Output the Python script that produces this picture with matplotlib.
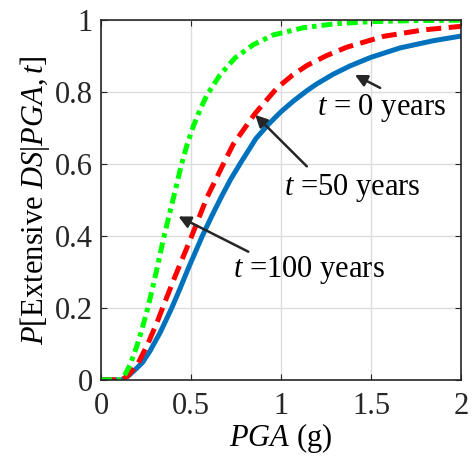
import matplotlib.pyplot as plt

plt.rcParams['font.family'] = ['Liberation Serif', 'DejaVu Serif']
plt.rcParams['mathtext.fontset'] = 'custom'
plt.rcParams['mathtext.rm'] = 'Liberation Serif'
plt.rcParams['mathtext.it'] = 'Liberation Serif:italic'

# curves (PGA in g, probability)
pga_t0 = [0, 0.1, 0.115, 0.15, 0.189, 0.23, 0.272, 0.33, 0.393, 0.44, 0.485, 0.563,
          0.615, 0.67, 0.72, 0.772, 0.86, 0.93, 1.0, 1.07, 1.143, 1.198, 1.29,
          1.383, 1.5, 1.661, 1.846, 2.0]
p_t0 = [0, 0, 0, 0.01, 0.028, 0.048, 0.08, 0.133, 0.2, 0.255, 0.31, 0.4,
        0.455, 0.51, 0.557, 0.6, 0.67, 0.71, 0.745, 0.775, 0.803, 0.822, 0.849,
        0.872, 0.896, 0.922, 0.942, 0.955]

pga_t50 = [0, 0.1, 0.115, 0.15, 0.206, 0.26, 0.309, 0.35, 0.411, 0.504, 0.587, 0.67,
           0.735, 0.856, 0.976, 1.06, 1.143, 1.25, 1.365, 1.568, 1.79, 2.0]
p_t50 = [0, 0, 0, 0.012, 0.046, 0.1, 0.157, 0.21, 0.287, 0.4, 0.505, 0.59,
         0.655, 0.74, 0.81, 0.845, 0.873, 0.9, 0.924, 0.954, 0.972, 0.982]

pga_t100 = [0, 0.09, 0.105, 0.13, 0.16, 0.2, 0.23, 0.26, 0.291, 0.32, 0.346, 0.375,
            0.402, 0.448, 0.476, 0.513, 0.55, 0.587, 0.661, 0.744, 0.846, 0.957,
            1.124, 1.3, 1.5, 1.75, 2.0]
p_t100 = [0, 0, 0, 0.012, 0.04, 0.095, 0.145, 0.2, 0.265, 0.33, 0.39, 0.45,
          0.505, 0.6, 0.65, 0.705, 0.75, 0.79, 0.847, 0.894, 0.931, 0.958,
          0.978, 0.989, 0.995, 0.998, 0.999]

xticks = [0, 0.5, 1, 1.5, 2]
yticks = [0, 0.2, 0.4, 0.6, 0.8, 1]

fs = 22

fig = plt.figure(figsize=(4.72, 4.61), dpi=100)
ax = fig.add_axes([0.214, 0.176, 0.763, 0.781])

ax.plot(pga_t0, p_t0, color='#0072BD', lw=3.6, solid_joinstyle='round')
ax.plot(pga_t50, p_t50, color='#FF0000', lw=3.6, dashes=(3.0, 1.5),
        dash_joinstyle='round')
ax.plot(pga_t100, p_t100, color='#00FF00', lw=3.6, dashes=(2.2, 1.0, 0.9, 1.0),
        dash_joinstyle='round')

ax.set_xlim(0, 2)
ax.set_ylim(0, 1)
ax.set_xticks(xticks)
ax.set_xticklabels(['0', '0.5', '1', '1.5', '2'])
ax.set_yticks(yticks)
ax.set_yticklabels(['0', '0.2', '0.4', '0.6', '0.8', '1'])
ax.grid(True, color='#dcdcdc', lw=1)
ax.tick_params(direction='in', top=True, right=True, labelsize=fs,
               colors='#262626', length=4)
ax.tick_params(axis='x', pad=9)
ax.tick_params(axis='y', pad=6)
for s in ax.spines.values():
    s.set_color('#262626')
    s.set_linewidth(1.2)

ax.set_xlabel(r'$PGA$ (g)', fontsize=fs, labelpad=0)
ax.set_ylabel(r'$P\mathrm{[Extensive\ }DS|PGA,t\mathrm{]}$', fontsize=fs, labelpad=2)

arrow = dict(arrowstyle='-|>', color='#262626', lw=1.8, mutation_scale=18, shrinkA=0, shrinkB=0)
ax.annotate('', xy=(1.41, 0.847), xytext=(1.55, 0.811), arrowprops=arrow)
ax.text(1.556, 0.756, r'$t$ = 0 years', fontsize=fs, ha='center', va='center')
ax.annotate('', xy=(0.856, 0.736), xytext=(1.143, 0.593), arrowprops=arrow)
ax.text(1.396, 0.533, r'$t$ =50 years', fontsize=fs, ha='center', va='center')
ax.annotate('', xy=(0.43, 0.454), xytext=(0.818, 0.356), arrowprops=arrow)
ax.text(1.153, 0.306, r'$t$ =100 years', fontsize=fs, ha='center', va='center')

fig.savefig('out.png', dpi=100)
